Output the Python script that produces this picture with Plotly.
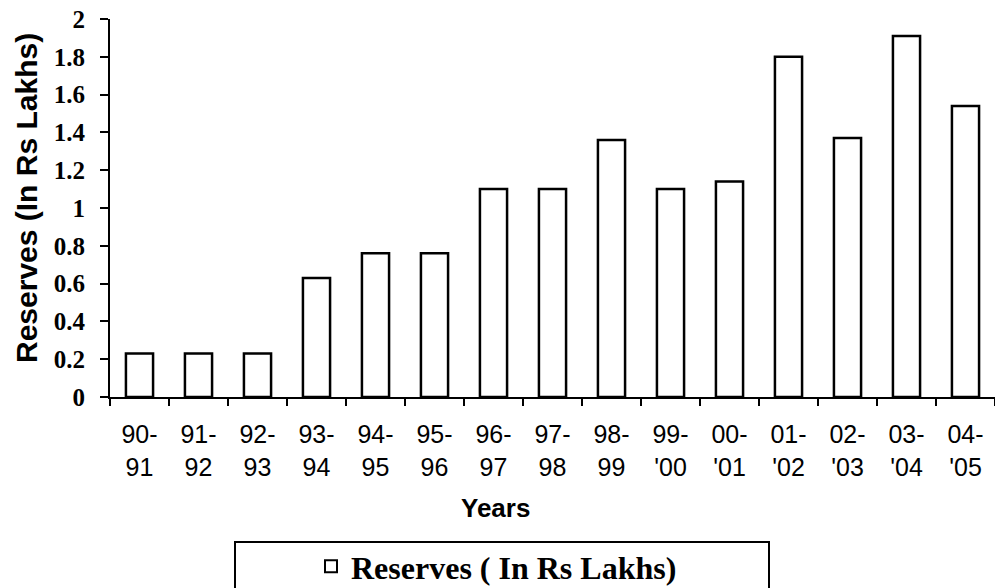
import plotly.graph_objects as go

# Financial years (two-line labels) and reserves in Rs lakhs
year_start = ["90-", "91-", "92-", "93-", "94-", "95-", "96-", "97-",
              "98-", "99-", "00-", "01-", "02-", "03-", "04-"]
year_end = ["91", "92", "93", "94", "95", "96", "97", "98",
            "99", "'00", "'01", "'02", "'03", "'04", "'05"]
reserves = [0.23, 0.23, 0.23, 0.63, 0.76, 0.76, 1.10, 1.10,
            1.36, 1.10, 1.14, 1.80, 1.37, 1.91, 1.54]
y_ticks = [0, 0.2, 0.4, 0.6, 0.8, 1, 1.2, 1.4, 1.6, 1.8, 2]

categories = [f"{a}{b}" for a, b in zip(year_start, year_end)]
tick_text = [f"{a}<br>{b}" for a, b in zip(year_start, year_end)]

W, H = 995, 588
L, R, T, B = 110, 0, 19, 191
plot_w = W - L - R
plot_h = H - T - B


def px_to_paper_x(px):
    return (px - L) / plot_w


def px_to_paper_y(py):
    return (H - B - py) / plot_h


SANS = "Arial, Liberation Sans, sans-serif"
SERIF = "Times New Roman, Liberation Serif, serif"

fig = go.Figure()
fig.add_trace(go.Bar(
    x=categories,
    y=reserves,
    name="Reserves ( In Rs Lakhs)",
    width=0.46,
    marker=dict(color="white", line=dict(color="black", width=2.5)),
    showlegend=True,
))

fig.update_layout(
    width=W, height=H,
    margin=dict(l=L, r=R, t=T, b=B, pad=0, autoexpand=False),
    paper_bgcolor="white",
    plot_bgcolor="white",
    showlegend=True,
    legend=dict(
        xref="container", yref="container",
        x=311 / W, y=1 - 539 / H,
        xanchor="left", yanchor="top",
        bgcolor="rgba(0,0,0,0)",
        borderwidth=0,
        font=dict(family=SERIF, size=32, color="black", weight="bold"),
        itemsizing="constant",
    ),
    xaxis=dict(
        type="category",
        tickmode="array",
        tickvals=categories,
        ticktext=tick_text,
        tickangle=0,
        tickson="boundaries",
        ticks="outside",
        ticklen=7,
        tickwidth=2,
        tickcolor="black",
        ticklabelstandoff=14,
        showline=True,
        linecolor="black",
        linewidth=2,
        showgrid=False,
        zeroline=False,
        tickfont=dict(family=SANS, size=25, color="black"),
    ),
    yaxis=dict(
        range=[0, 2],
        tickmode="array",
        tickvals=y_ticks,
        ticks="outside",
        ticklen=8,
        tickwidth=2,
        tickcolor="black",
        ticklabelstandoff=10,
        showline=True,
        linecolor="black",
        linewidth=2,
        showgrid=False,
        zeroline=False,
        tickfont=dict(family=SERIF, size=25, color="black", weight="bold"),
    ),
    annotations=[
        dict(
            text="Reserves (In Rs Lakhs)",
            xref="paper", yref="paper",
            x=px_to_paper_x(27), y=px_to_paper_y(198),
            xanchor="center", yanchor="middle",
            textangle=-90, showarrow=False,
            font=dict(family=SANS, size=30, color="black", weight="bold"),
        ),
        dict(
            text="Years",
            xref="paper", yref="paper",
            x=px_to_paper_x(495), y=px_to_paper_y(508),
            xanchor="center", yanchor="middle",
            showarrow=False,
            font=dict(family=SANS, size=26, color="black", weight="bold"),
        ),
    ],
    shapes=[
        dict(
            type="rect",
            xref="paper", yref="paper",
            x0=px_to_paper_x(235), x1=px_to_paper_x(769),
            y0=px_to_paper_y(542), y1=px_to_paper_y(594),
            line=dict(color="black", width=2),
            fillcolor="rgba(0,0,0,0)",
            layer="above",
        ),
    ],
)

fig.write_html("out.html")
